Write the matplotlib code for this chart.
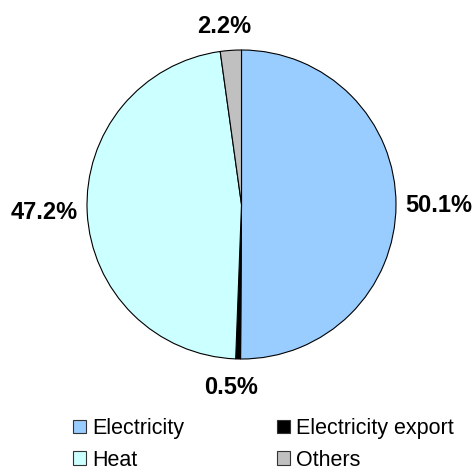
import numpy as np
import matplotlib.pyplot as plt
from matplotlib.patches import Patch

plt.rcParams['font.family'] = ['Liberation Sans', 'DejaVu Sans']

labels = ['Electricity', 'Electricity export', 'Heat', 'Others']
shares = [50.1, 0.5, 47.2, 2.2]
colors = ['#99CCFF', '#000000', '#CCFFFF', '#C0C0C0']

fig = plt.figure(figsize=(4.75, 4.73), dpi=100)
# pie axes: centre ~ (241.5, 204.5) px, radius ~154.5 px
W, H = 475, 473
cx, cy, r = 241.5, 204.5, 154.5
ax = fig.add_axes([(cx - r) / W, 1 - (cy + r) / H, 2 * r / W, 2 * r / H])

wedges, _ = ax.pie(shares, colors=colors, startangle=90, counterclock=False,
                   radius=1, wedgeprops=dict(edgecolor='black', linewidth=0.8))
ax.set_xlim(-1, 1)
ax.set_ylim(-1, 1)
ax.set_aspect('equal')

# percentage labels outside each wedge
for w, s in zip(wedges, shares):
    ang = np.deg2rad((w.theta1 + w.theta2) / 2)
    c, sn = np.cos(ang), np.sin(ang)
    ha = 'left' if c > 0.5 else ('right' if c < -0.5 else 'center')
    if sn > 0.5:
        va, rr = 'bottom', 1.08
    elif sn < -0.5:
        va, rr = 'top', 1.11
    else:
        va, rr = 'center', 1.06
    x = rr * c if ha != 'center' else rr * c - 0.04
    ax.text(x, rr * sn, f'{s:.1f}%', ha=ha, va=va,
            fontsize=17, fontweight='bold', clip_on=False)

# legend, Excel style order: row-wise
order = [0, 2, 1, 3]
handles = [Patch(facecolor=colors[i], edgecolor='#333333', linewidth=0.8,
                 label=labels[i]) for i in order]
fig.legend(handles=handles, ncol=2, loc='upper left', frameon=False,
           bbox_to_anchor=(73 / W, 1 - 418 / H), borderaxespad=0, borderpad=0,
           fontsize=15.5, handlelength=0.6, handleheight=0.6,
           handletextpad=0.3, columnspacing=4.3, labelspacing=0.5)

fig.savefig('out.png', dpi=100)
